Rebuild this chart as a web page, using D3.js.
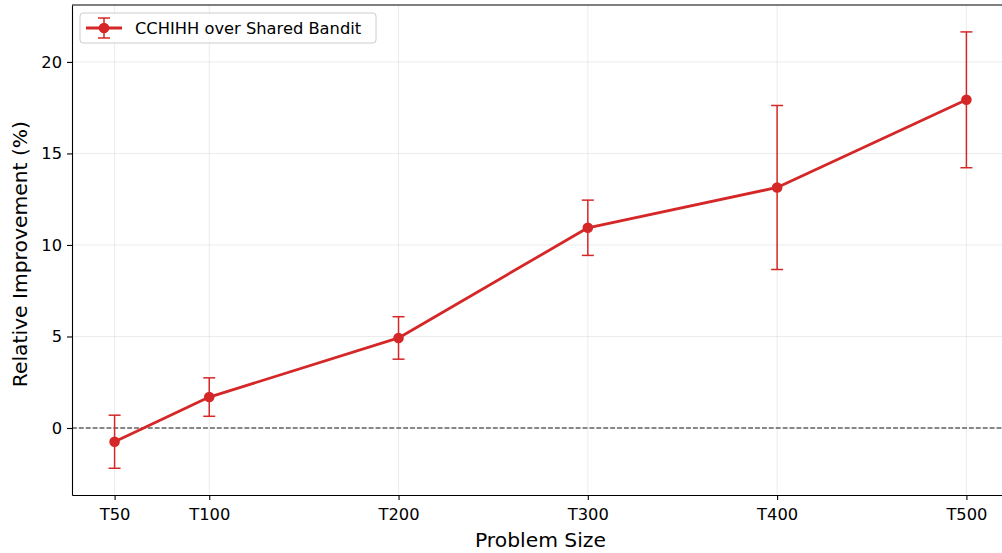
<!DOCTYPE html>
<html>
<head>
<meta charset="utf-8">
<script src="https://cdn.jsdelivr.net/npm/d3@7"></script>
<style>
  body { margin: 0; background: #fff; }
  svg { font-family: "DejaVu Sans", sans-serif; }
</style>
</head>
<body>
<svg id="chart" width="1002" height="553"></svg>
<script>
var sizes = [50, 100, 200, 300, 400, 500];
var tickLabels = ["T50", "T100", "T200", "T300", "T400", "T500"];
var means = [-0.75, 1.69, 4.92, 10.94, 13.14, 17.93];
var errs = [1.45, 1.05, 1.16, 1.51, 4.48, 3.71];
var seriesName = "CCHIHH over Shared Bandit";

var RED = "#d62728";
var svg = d3.select("#chart");
var margin = {left: 72, top: 5, right: 1009, bottom: 495};

var x = d3.scaleLinear().domain([27.5, 522.5]).range([margin.left, margin.right]);
var y = d3.scaleLinear().domain([-3.66, 23.11]).range([margin.bottom, margin.top]);

var data = sizes.map(function(s, i){
  return {size: s, label: tickLabels[i], mean: means[i], err: errs[i]};
});

// grid
var grid = svg.append("g");
grid.selectAll(".gx").data(sizes).enter().append("line")
  .attr("x1", d=>x(d)).attr("x2", d=>x(d))
  .attr("y1", margin.top).attr("y2", margin.bottom)
  .attr("stroke", "#b0b0b0").attr("stroke-opacity", 0.3).attr("stroke-width", 0.8);
grid.selectAll(".gy").data([0, 5, 10, 15, 20]).enter().append("line")
  .attr("x1", margin.left).attr("x2", margin.right)
  .attr("y1", d=>y(d)).attr("y2", d=>y(d))
  .attr("stroke", "#b0b0b0").attr("stroke-opacity", 0.3).attr("stroke-width", 0.8);

// zero line
svg.append("line")
  .attr("x1", margin.left).attr("x2", margin.right)
  .attr("y1", y(0)).attr("y2", y(0))
  .attr("stroke", "#000").attr("stroke-opacity", 0.6)
  .attr("stroke-width", 1.3).attr("stroke-dasharray", "4.8,2.1");

// axes
var xAxis = d3.axisBottom(x).tickValues(sizes).tickFormat((d, i) => tickLabels[i])
  .tickSizeOuter(0).tickSizeInner(5).tickPadding(4);
var gx = svg.append("g").attr("transform", "translate(0," + margin.bottom + ")").call(xAxis);
var yAxis = d3.axisLeft(y).tickValues([0, 5, 10, 15, 20])
  .tickSizeOuter(0).tickSizeInner(5).tickPadding(5);
var gy = svg.append("g").attr("transform", "translate(" + margin.left + ",0)").call(yAxis);
[gx, gy].forEach(function(g){
  g.selectAll("text").attr("font-size", 16.3).attr("fill", "#000")
    .style("font-family", "DejaVu Sans, sans-serif");
  g.select(".domain").attr("stroke", "#000").attr("stroke-width", 1.1);
  g.selectAll(".tick line").attr("stroke", "#000").attr("stroke-width", 1.1);
});
gx.selectAll("text").attr("dy", "1.0em");

// top spine
svg.append("line")
  .attr("x1", margin.left).attr("x2", margin.right)
  .attr("y1", margin.top).attr("y2", margin.top)
  .attr("stroke", "#000").attr("stroke-width", 1.1);

// axis labels
svg.append("text").attr("x", x(275)).attr("y", 547)
  .attr("text-anchor", "middle").attr("font-size", 20.3).text("Problem Size");
svg.append("text")
  .attr("transform", "translate(27," + y(9.5) + ") rotate(-90)")
  .attr("text-anchor", "middle").attr("font-size", 20.3).text("Relative Improvement (%)");

// error bars
var eb = svg.append("g");
eb.selectAll(".ev").data(data).enter().append("line")
  .attr("x1", d=>x(d.size)).attr("x2", d=>x(d.size))
  .attr("y1", d=>y(d.mean - d.err)).attr("y2", d=>y(d.mean + d.err))
  .attr("stroke", RED).attr("stroke-width", 1.5);
[-1, 1].forEach(function(s){
  eb.selectAll(".cap" + s).data(data).enter().append("line")
    .attr("x1", d=>x(d.size) - 6).attr("x2", d=>x(d.size) + 6)
    .attr("y1", d=>y(d.mean + s*d.err)).attr("y2", d=>y(d.mean + s*d.err))
    .attr("stroke", RED).attr("stroke-width", 1.5);
});

// line
var line = d3.line().x(d=>x(d.size)).y(d=>y(d.mean));
svg.append("path").datum(data).attr("d", line)
  .attr("fill", "none").attr("stroke", RED).attr("stroke-width", 2.8)
  .attr("stroke-linejoin", "round");
svg.selectAll(".pt").data(data).enter().append("circle")
  .attr("cx", d=>x(d.size)).attr("cy", d=>y(d.mean)).attr("r", 5.3)
  .attr("fill", RED);

// legend
var lg = svg.append("g").attr("transform", "translate(80,13)");
lg.append("rect").attr("width", 296).attr("height", 30).attr("rx", 3)
  .attr("fill", "#fff").attr("fill-opacity", 0.8)
  .attr("stroke", "#cccccc").attr("stroke-width", 1);
lg.append("line").attr("x1", 6).attr("x2", 42).attr("y1", 15).attr("y2", 15)
  .attr("stroke", RED).attr("stroke-width", 2.8);
lg.append("line").attr("x1", 24).attr("x2", 24).attr("y1", 5).attr("y2", 25)
  .attr("stroke", RED).attr("stroke-width", 1.5);
[5, 25].forEach(function(yy){
  lg.append("line").attr("x1", 18).attr("x2", 30).attr("y1", yy).attr("y2", yy)
    .attr("stroke", RED).attr("stroke-width", 1.5);
});
lg.append("circle").attr("cx", 24).attr("cy", 15).attr("r", 5.3).attr("fill", RED);
lg.append("text").attr("x", 55).attr("y", 21).attr("font-size", 16.3).text(seriesName);
</script>
</body>
</html>
